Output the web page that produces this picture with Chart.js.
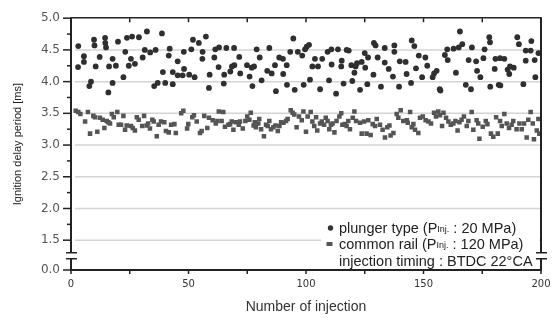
<!DOCTYPE html>
<html>
<head>
<meta charset="utf-8">
<script src="https://cdn.jsdelivr.net/npm/chart.js@4.4.0/dist/chart.umd.min.js"></script>
<style>
  html, body { margin: 0; padding: 0; background: #fff; }
  #wrap { width: 559px; height: 320px; }
</style>
</head>
<body>
<div id="wrap"><canvas id="delayChart"></canvas></div>
<script>
// plunger type (circles)
const plungerX = [
  3.1, 3.0, 5.5, 5.5, 7.8, 8.5, 9.8, 10.0, 10.5, 12.2, 14.5, 14.6, 14.9, 15.9, 16.2, 17.7, 17.7, 19.1, 20.0, 22.3,
  23.1, 23.8, 24.6, 25.5, 26.0, 27.2, 28.9, 30.5, 31.4, 32.3, 33.7, 35.4, 36.0, 36.9, 38.7, 39.1, 40.1, 41.6, 42.0, 43.3,
  43.3, 45.4, 45.4, 47.5, 48.1, 48.0,
  50.3, 51.2, 51.9, 52.6, 54.4, 55.9, 56.0, 57.4, 58.7, 59.0, 61.0, 61.4, 62.8, 63.0, 65.0, 65.2, 66.1, 67.8, 68.5, 69.4,
  69.5, 71.6, 72.0, 74.9, 76.0, 76.9, 77.2, 77.9, 79.0, 80.3, 81.1, 83.5, 84.4, 85.4, 86.8, 87.2, 88.6, 90.2, 90.3, 91.8,
  91.9, 93.3, 94.6, 95.2, 96.5, 98.4, 99.0, 99.6, 100.3, 101.3, 101.7, 102.7, 103.8, 105.1, 106.0, 106.9, 109.2, 109.8, 110.8, 110.9,
  112.8, 113.6, 115.0, 115.2, 116.0, 117.3, 118.2, 119.3, 119.7, 120.6, 121.1, 121.7, 123.0, 123.7,
  125.0, 125.2, 126.1, 126.4, 128.7, 128.9, 129.6, 130.5, 131.9, 133.5, 133.5, 135.2, 137.0, 137.6, 137.6, 139.6, 139.9, 142.4, 142.8, 144.7,
  145.0, 146.1, 146.8, 148.0, 149.4, 150.8, 151.6, 153.9, 154.5, 155.6, 156.9, 157.2, 159.1, 160.1, 160.3, 162.8, 163.8, 165.0, 165.5, 166.5,
  168.0, 169.2, 170.2, 170.6, 172.4, 172.8, 174.2, 175.5, 176.0, 178.0, 178.3, 178.4, 180.3, 180.6, 182.0, 182.7, 182.6, 184.4, 185.8, 186.5,
  186.8, 188.4, 189.9, 190.6, 192.5, 193.5, 193.5, 195.6, 195.9, 197.3, 197.6, 198.9
];
const plungerY = [
  4.56, 4.23, 4.40, 4.31, 3.93, 4.00, 4.66, 4.57, 4.24, 4.39, 4.69, 4.61, 4.54, 3.83, 4.24, 4.36, 3.98, 4.25, 4.63, 4.07,
  4.47, 4.69, 4.25, 4.36, 4.71, 4.28, 4.70, 4.38, 4.50, 4.79, 4.46, 3.93, 4.50, 3.98, 4.76, 4.15, 3.98, 4.41, 4.52, 4.15,
  3.96, 4.32, 4.10, 4.10, 4.20, 4.47,
  4.11, 4.51, 4.66, 4.07, 4.61, 4.36, 4.47, 4.71, 3.90, 4.11, 4.38, 4.51, 4.23, 4.54, 3.97, 4.11, 4.53, 4.16, 4.24, 4.53,
  4.26, 4.39, 4.13, 4.26, 4.08, 4.22, 3.93, 4.24, 4.51, 4.38, 4.02, 4.17, 4.53, 4.13, 4.26, 3.85, 4.38, 4.36, 4.12, 4.26,
  3.95, 4.47, 4.68, 3.87, 4.47, 4.41, 3.95, 4.51, 4.55, 4.58, 4.03, 4.24, 4.36, 4.24, 3.88, 4.36, 4.47, 4.02, 4.51, 4.27,
  3.81, 4.51, 4.24, 4.33, 3.97, 4.50, 4.49, 4.26, 4.01, 4.14, 4.24, 4.29, 3.87, 4.31,
  4.45, 4.22, 3.96, 4.38, 4.11, 4.61, 4.57, 4.38, 3.92, 4.53, 4.30, 4.20, 4.08, 4.57, 4.47, 3.92, 4.32, 4.31, 4.12, 3.98,
  4.65, 4.56, 4.21, 4.41, 4.07, 4.38, 4.25, 4.07, 4.13, 4.17, 3.88, 3.86, 4.42, 4.51, 4.34, 4.52, 4.14, 4.54, 4.79, 4.59,
  3.95, 4.34, 3.88, 4.54, 4.32, 4.17, 4.07, 4.37, 4.51, 4.70, 4.62, 3.92, 4.20, 4.36, 3.95, 3.94, 4.37, 4.36, 4.19, 4.12,
  4.24, 4.22, 4.70, 4.59, 3.96, 4.49, 4.33, 4.49, 4.64, 4.34, 4.07, 4.45
];

// common rail (squares)
const railX = [
  2.0, 3.1, 4.0, 6.0, 7.2, 8.1, 9.5, 10.2, 11.2, 12.3, 13.5, 14.2, 15.2, 15.9, 16.6, 17.4, 18.2, 19.7, 20.3, 21.3,
  22.3, 23.0, 23.7, 25.5, 26.3, 27.2, 28.0, 28.8, 30.3, 31.1, 32.2, 32.8, 33.6, 34.6, 35.2, 36.5, 37.3, 38.3, 39.7, 40.4,
  41.6, 42.6, 44.0, 44.6, 46.9, 47.8, 49.4, 49.9, 51.6, 52.3, 53.5, 54.9, 55.6, 56.7, 58.0, 58.7, 60.3, 61.6, 62.3, 62.9,
  64.1, 64.8, 65.5, 67.0, 67.7, 68.4, 69.1, 70.2, 71.4, 71.9, 73.1, 74.2, 75.0, 75.9, 76.5, 77.7, 78.2, 78.7, 79.7, 80.1,
  80.9, 82.1, 83.0, 83.7, 84.4, 85.1, 86.1, 87.0, 88.0, 88.7, 89.4, 90.4, 91.5, 92.2, 93.5, 94.3, 95.0, 96.0, 97.0, 98.2,
  98.9, 100.0, 100.7, 102.0, 102.7, 103.5, 104.3, 104.8, 106.0, 106.7, 107.7, 108.4, 109.2, 109.9, 110.6, 111.3, 112.1, 113.0, 114.2, 115.0,
  115.5, 116.6, 117.3, 118.0, 118.7, 119.9, 120.6, 121.3, 123.0, 123.7, 124.7, 125.8, 126.5, 127.5, 128.4, 129.4, 130.1,
  131.5, 132.6, 133.6, 134.6, 135.5, 136.0, 137.2, 138.6, 139.3, 140.3, 141.4, 142.9, 143.3, 144.3, 145.0, 145.7, 146.4, 147.8, 148.5, 149.7,
  150.9, 152.1, 153.2, 154.5, 155.3, 156.3, 157.0, 157.9, 158.5, 159.6, 160.6, 161.6, 162.7, 163.6, 164.5, 165.3, 166.2, 167.2, 168.4, 169.1,
  170.5, 171.2, 172.6, 173.3, 173.8, 175.2, 176.5, 177.2, 178.7, 179.7, 180.9, 181.6, 182.6, 183.3, 184.4, 185.4, 186.4, 187.5, 188.2, 189.6,
  190.8, 191.8, 192.8, 193.9, 194.6, 195.6, 196.5, 197.0, 198.2, 198.9, 199.3
];
const railY = [
  3.54, 3.52, 3.49, 3.37, 3.52, 3.18, 3.46, 3.44, 3.21, 3.43, 3.40, 3.27, 3.38, 3.36, 3.34, 3.49, 3.44, 3.52, 3.32, 3.32,
  3.46, 3.24, 3.31, 3.30, 3.27, 3.23, 3.44, 3.40, 3.30, 3.46, 3.31, 3.34, 3.26, 3.40, 3.37, 3.14, 3.32, 3.37, 3.36, 3.22,
  3.20, 3.32, 3.33, 3.19, 3.50, 3.54, 3.26, 3.33, 3.44, 3.47, 3.37, 3.19, 3.22, 3.46, 3.27, 3.43, 3.39, 3.34, 3.38, 3.53,
  3.38, 3.52, 3.29, 3.32, 3.33, 3.37, 3.24, 3.36, 3.32, 3.37, 3.26, 3.38, 3.45, 3.40, 3.51, 3.31, 3.36, 3.28, 3.34, 3.41,
  3.25, 3.14, 3.32, 3.30, 3.38, 3.25, 3.28, 3.31, 3.22, 3.30, 3.36, 3.35, 3.38, 3.41, 3.55, 3.51, 3.48, 3.28, 3.45, 3.39,
  3.53, 3.21, 3.45, 3.52, 3.37, 3.30, 3.44, 3.23, 3.34, 3.37, 3.32, 3.43, 3.38, 3.25, 3.32, 3.34, 3.20, 3.38, 3.45, 3.50,
  3.32, 3.33, 3.30, 3.38, 3.25, 3.43, 3.53, 3.38, 3.35, 3.18, 3.37, 3.18, 3.39, 3.16, 3.33, 3.30, 3.41,
  3.32, 3.24, 3.12, 3.28, 3.31, 3.15, 3.19, 3.49, 3.43, 3.55, 3.38, 3.39, 3.35, 3.52, 3.28, 3.33, 3.24, 3.19, 3.43, 3.45,
  3.39, 3.37, 3.34, 3.51, 3.45, 3.53, 3.47, 3.30, 3.51, 3.43, 3.37, 3.32, 3.34, 3.38, 3.23, 3.36, 3.40, 3.45, 3.30, 3.38,
  3.52, 3.24, 3.39, 3.34, 3.10, 3.29, 3.38, 3.33, 3.18, 3.13, 3.44, 3.18, 3.38, 3.30, 3.49, 3.34, 3.27, 3.32, 3.38, 3.25,
  3.34, 3.25, 3.34, 3.12, 3.40, 3.52, 3.34, 3.09, 3.23, 3.41, 3.18
];

const xTicks = [0, 50, 100, 150, 200];
const xMinorTicks = [25, 75, 125, 175];
const yTicks = [1.5, 2.0, 2.5, 3.0, 3.5, 4.0, 4.5, 5.0];
const yMinorTicks = [1.75, 2.25, 2.75, 3.25, 3.75, 4.25, 4.75];
const yBreakValue = 1.03;   // broken axis: bottom of the axis is labelled 0.0
const yBreakLabel = "0.0";

const legendRows = [
  { marker: "circle", text: ["plunger type (P", "Inj.", " : 20 MPa)"] },
  { marker: "rect", text: ["common rail (P", "Inj.", " : 120 MPa)"] },
  { marker: null, text: ["injection timing : BTDC 22°CA"] }
];

const INK = "#222";

const framePlugin = {
  id: "frame",
  beforeDatasetsDraw(chart) {
    const { ctx, chartArea: a, scales: { y } } = chart;
    ctx.save();
    ctx.strokeStyle = "#d4d4d4";
    ctx.lineWidth = 1.5;
    yTicks.forEach(v => {
      if (v >= 5) return;
      const py = y.getPixelForValue(v);
      ctx.beginPath();
      ctx.moveTo(a.left + 4, py);
      ctx.lineTo(a.right, py);
      ctx.stroke();
    });
    ctx.restore();
  },
  afterDraw(chart) {
    const { ctx, chartArea: a, scales: { x, y } } = chart;
    const breakTop = y.getPixelForValue(1.5) + 12.5;
    const breakBot = breakTop + 6;

    ctx.save();
    // legend box
    ctx.fillStyle = "#fff";
    ctx.fillRect(321, 215, a.right - 323, 53);
    let base = 232.5;
    legendRows.forEach(row => {
      let tx = 339;
      ctx.fillStyle = "#333";
      if (row.marker === "circle") {
        ctx.beginPath();
        ctx.arc(330.5, base - 4.5, 2.7, 0, Math.PI * 2);
        ctx.fill();
      } else if (row.marker === "rect") {
        ctx.fillStyle = "#555";
        ctx.fillRect(326.5, base - 7, 6, 4);
      }
      ctx.fillStyle = INK;
      ctx.textBaseline = "alphabetic";
      row.text.forEach((part, i) => {
        const sub = i === 1;
        ctx.font = sub ? "9px 'Liberation Sans', Arial, sans-serif" : "14.5px 'Liberation Sans', Arial, sans-serif";
        ctx.fillText(part, tx, sub ? base - 1 : base);
        tx += ctx.measureText(part).width;
      });
      base += 16.5;
    });

    ctx.strokeStyle = INK;
    // top and bottom frame
    ctx.lineWidth = 1.5;
    ctx.beginPath();
    ctx.moveTo(a.left, a.top - 0.5);
    ctx.lineTo(a.right, a.top - 0.5);
    ctx.stroke();
    ctx.lineWidth = 2;
    ctx.beginPath();
    ctx.moveTo(a.left - 1, a.bottom);
    ctx.lineTo(a.right + 1, a.bottom);
    ctx.stroke();
    // left and right axis, broken
    [a.left, a.right].forEach(px => {
      ctx.lineWidth = 2;
      ctx.beginPath();
      ctx.moveTo(px, a.top - 1);
      ctx.lineTo(px, breakTop);
      ctx.moveTo(px, breakBot);
      ctx.lineTo(px, a.bottom);
      ctx.stroke();
      ctx.lineWidth = 1.5;
      ctx.beginPath();
      ctx.moveTo(px - 5, breakTop);
      ctx.lineTo(px + 6, breakTop);
      ctx.moveTo(px - 5, breakBot);
      ctx.lineTo(px + 6, breakBot);
      ctx.stroke();
    });
    // y ticks
    ctx.lineWidth = 1.5;
    [yBreakValue, ...yTicks].forEach(v => {
      const py = y.getPixelForValue(v);
      ctx.beginPath();
      ctx.moveTo(a.left - 8, py);
      ctx.lineTo(a.left, py);
      ctx.stroke();
    });
    yMinorTicks.forEach(v => {
      const py = y.getPixelForValue(v);
      ctx.beginPath();
      ctx.moveTo(a.left - 4, py);
      ctx.lineTo(a.left, py);
      ctx.stroke();
    });
    // x ticks
    [...xTicks, ...xMinorTicks].forEach(v => {
      const px = x.getPixelForValue(v);
      ctx.beginPath();
      ctx.moveTo(px, a.bottom);
      ctx.lineTo(px, a.bottom + 4);
      ctx.moveTo(px, a.top);
      ctx.lineTo(px, a.top + 4);
      ctx.stroke();
    });
    ctx.restore();
  }
};

new Chart(document.getElementById("delayChart"), {
  type: "scatter",
  data: {
    datasets: [
      {
        label: "plunger type",
        data: plungerX.map((v, i) => ({ x: v, y: plungerY[i] })),
        pointStyle: "circle",
        pointRadius: 2.9,
        backgroundColor: "#2f2f2f",
        borderWidth: 0
      },
      {
        label: "common rail",
        data: railX.map((v, i) => ({ x: v, y: railY[i] })),
        pointStyle: "rect",
        pointRadius: 3.2,
        backgroundColor: "#555",
        borderWidth: 0
      }
    ]
  },
  options: {
    responsive: true,
    maintainAspectRatio: false,
    animation: false,
    events: [],
    layout: { padding: { top: 12, right: 18, bottom: 0, left: 0 } },
    scales: {
      x: {
        type: "linear",
        min: 0,
        max: 200,
        afterBuildTicks: s => { s.ticks = xTicks.map(v => ({ value: v })); },
        afterFit: s => { s.height = 50; },
        grid: { display: false, drawTicks: false },
        border: { display: false },
        ticks: {
          padding: 8,
          maxRotation: 0,
          color: "#333",
          font: { family: "'DejaVu Sans', sans-serif", size: 10 }
        },
        title: {
          display: true,
          text: "Number of injection",
          color: "#333",
          padding: { top: 0, bottom: 4 },
          font: { family: "'Liberation Sans', Arial, sans-serif", size: 14 }
        }
      },
      y: {
        type: "linear",
        min: yBreakValue,
        max: 5,
        afterBuildTicks: s => { s.ticks = [yBreakValue, ...yTicks].map(v => ({ value: v })); },
        afterFit: s => { s.width = 71; },
        grid: { display: false, drawTicks: false },
        border: { display: false },
        ticks: {
          padding: 11,
          color: "#555",
          font: { family: "'DejaVu Sans', sans-serif", size: 12 },
          callback: v => (v === yBreakValue ? yBreakLabel : v.toFixed(1))
        },
        title: {
          display: true,
          text: "Ignition delay period [ms]",
          color: "#222",
          padding: { top: 11, bottom: 0 },
          font: { family: "'Liberation Sans Narrow', 'Liberation Sans', sans-serif", size: 11 }
        }
      }
    },
    plugins: {
      legend: { display: false },
      tooltip: { enabled: false }
    }
  },
  plugins: [framePlugin]
});
</script>
</body>
</html>
